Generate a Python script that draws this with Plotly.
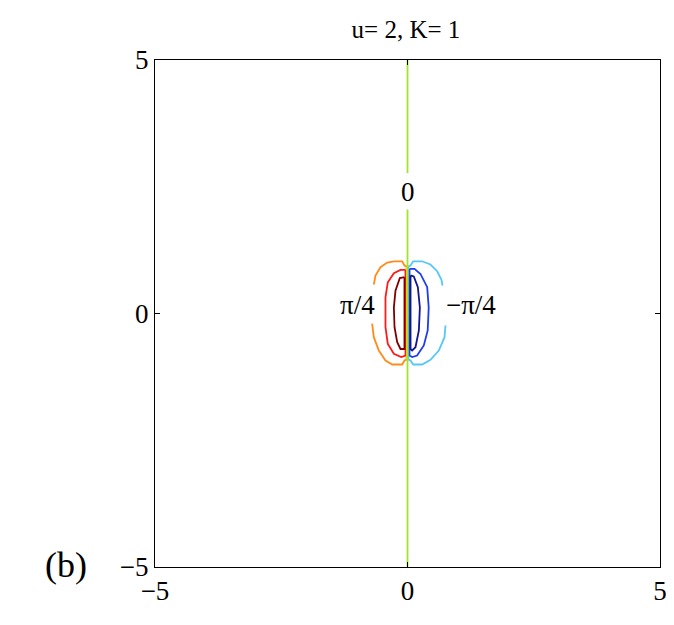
import plotly.graph_objects as go

# contour lines (phase levels of the field)
orange_top_x = [-0.667, -0.634, -0.535, -0.40, -0.27, -0.105, -0.06, -0.02, -0.02]
orange_top_y = [0.572, 0.75, 0.913, 1.006, 1.03, 1.03, 0.947, 0.93, 0.0]
orange_bot_x = [-0.70, -0.667, -0.568, -0.436, -0.30, -0.105, -0.06, -0.02, -0.02]
orange_bot_y = [-0.20, -0.467, -0.73, -0.927, -1.006, -1.006, -0.927, -0.91, 0.0]

red_x = [-0.04, -0.06, -0.139, -0.27, -0.39, -0.436, -0.436, -0.39, -0.27, -0.125, -0.06, -0.04, -0.04]
red_y = [0.86, 0.86, 0.86, 0.795, 0.617, 0.32, -0.27, -0.6, -0.795, -0.86, -0.83, -0.83, 0.86]

darkred_x = [-0.06, -0.152, -0.238, -0.27, -0.257, -0.204, -0.139, -0.073, -0.06, -0.06]
darkred_y = [0.716, 0.70, 0.45, 0.12, -0.27, -0.566, -0.70, -0.70, -0.70, 0.716]

yellow_x = [-0.01, -0.01]
yellow_y = [0.92, -0.90]

cyan_top_x = [0.02, 0.02, 0.06, 0.112, 0.29, 0.455, 0.587, 0.673, 0.693]
cyan_top_y = [0.0, 0.93, 0.947, 1.03, 1.03, 0.966, 0.834, 0.664, 0.552]
cyan_bot_x = [0.02, 0.02, 0.06, 0.112, 0.29, 0.455, 0.62, 0.733, 0.752]
cyan_bot_y = [0.0, -0.91, -0.927, -1.006, -1.006, -0.913, -0.73, -0.467, -0.237]

blue_x = [0.04, 0.06, 0.139, 0.257, 0.39, 0.42, 0.40, 0.323, 0.19, 0.092, 0.06, 0.04, 0.04]
blue_y = [0.88, 0.88, 0.88, 0.78, 0.52, 0.12, -0.335, -0.63, -0.83, -0.86, -0.83, -0.83, 0.88]

darkblue_x = [0.06, 0.125, 0.205, 0.245, 0.225, 0.158, 0.092, 0.06, 0.06]
darkblue_y = [0.75, 0.73, 0.52, 0.12, -0.335, -0.665, -0.73, -0.70, 0.75]

# zero-phase line along x = 0, broken where its label sits
zero_x = [0, 0, None, 0, 0]
zero_y = [-5, 2.05, None, 2.77, 5]

curves = [
    (orange_top_x, orange_top_y, '#ff8c1a'),
    (orange_bot_x, orange_bot_y, '#ff8c1a'),
    (red_x, red_y, '#ff1a1a'),
    (darkred_x, darkred_y, '#800000'),
    (yellow_x, yellow_y, '#ffd700'),
    (cyan_top_x, cyan_top_y, '#55c8f8'),
    (cyan_bot_x, cyan_bot_y, '#55c8f8'),
    (blue_x, blue_y, '#1e3cf0'),
    (darkblue_x, darkblue_y, '#141490'),
    (zero_x, zero_y, '#9fe52a'),
]

level_labels = ['0', 'π/4', '−π/4']
label_x = [0, -0.99, 1.25]
label_y = [2.39, 0.16, 0.16]

ticks = [-5, 0, 5]
tick_text = ['−5', '0', '5']

SERIF = 'Liberation Serif'

fig = go.Figure()
for cx, cy, col in curves:
    fig.add_trace(go.Scatter(x=cx, y=cy, mode='lines',
                             line=dict(color=col, width=1.8),
                             hoverinfo='skip', showlegend=False))

for txt, lx, ly in zip(level_labels, label_x, label_y):
    fig.add_annotation(x=lx, y=ly, text=txt, showarrow=False,
                       font=dict(family=SERIF, size=27, color='black'))

fig.add_annotation(xref='paper', yref='paper', x=-0.222, y=-0.039,
                   text='(b)', showarrow=False,
                   font=dict(family=SERIF, size=36, color='black'))

axis_style = dict(range=[-5, 5], tickvals=ticks, ticktext=tick_text,
                  ticks='inside', ticklen=5, tickcolor='black',
                  showline=True, linecolor='black', linewidth=1,
                  mirror='ticks', showgrid=False, zeroline=False,
                  automargin=False,
                  tickfont=dict(family=SERIF, size=27, color='black'))

fig.update_xaxes(**axis_style)
fig.update_yaxes(**axis_style)

# page body adds an 8px offset, so the figure is sized to fit inside the window
fig.update_layout(
    width=666, height=617,
    margin=dict(l=147, r=14, t=52, b=58),
    plot_bgcolor='white', paper_bgcolor='white',
    title=dict(text='u= 2, K= 1', x=0.5976, xanchor='center', y=0.966, yanchor='middle',
               font=dict(family=SERIF, size=25, color='black')),
)

fig.write_html("out.html")
